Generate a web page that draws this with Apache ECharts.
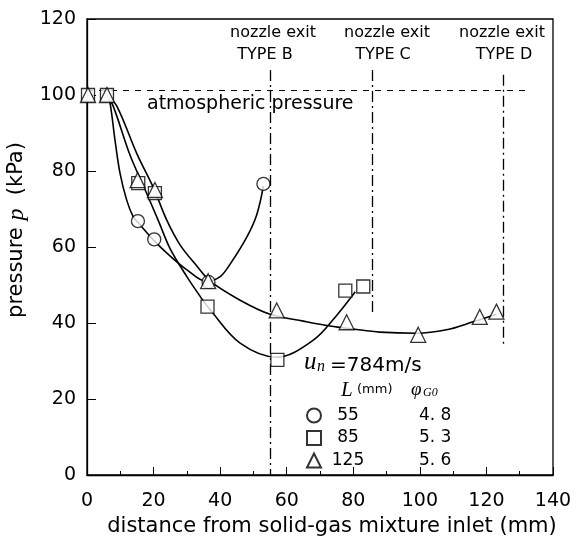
<!DOCTYPE html>
<html>
<head>
<meta charset="utf-8">
<script src="https://cdn.jsdelivr.net/npm/echarts@6/dist/echarts.min.js"></script>
<style>
  html, body { margin: 0; padding: 0; background: #fff; }
  #chart { width: 574px; height: 542px; }
</style>
</head>
<body>
<div id="chart"></div>
<script>
// series labels (L in mm) and phi_G0
const lengths = ['55', '85', '125'];
const phiG0 = ['4. 8', '5. 3', '5. 6'];
const symbols = ['circle', 'rect', 'triangle'];

// measured points [distance mm, pressure kPa]
const pts55 = [[15.3, 66.8], [20.2, 62], [36.5, 50.8], [53, 76.6]];
const pts85 = [[0.3, 100], [6, 100], [15.4, 76.8], [20.4, 74.2], [36.2, 44.3], [57.2, 30.3], [77.6, 48.5], [83, 49.6]];
const pts125 = [[0.3, 100], [6, 100], [15.2, 77.6], [20.4, 75], [36.4, 51], [57, 43.3], [78, 40.2], [99.5, 36.9], [118, 41.6], [123, 43]];

// fitted curves
const curve55 = [[6, 100], [6.9, 98], [8.4, 88.2], [9.9, 79.5], [11.9, 72.4], [13.9, 67.9], [15.3, 66.5], [20, 61.8], [24, 58.4], [30, 54], [36, 50.9], [40, 52.2], [43, 55.5], [48, 62.6], [51, 68.5], [53, 76]];
const curve85 = [[6, 100], [7.9, 97], [13, 84], [17, 76], [21.4, 67], [25, 59.5], [30, 52.2], [34, 47], [37, 43.5], [46, 34.7], [57, 31], [68, 35.5], [75, 42], [80.6, 48.2]];
const curve125 = [[6, 100], [9, 97], [15, 84.5], [20, 75.5], [24, 67], [28, 60.5], [33, 55], [37, 51], [46, 46], [55, 42.3], [65, 40.5], [73, 39.2], [80, 38.4], [88, 37.6], [99, 37.3], [108, 38.2], [116, 40.3], [123, 42.3]];

// nozzle exits: x, top, bottom (kPa)
const nozzleX = [55, 85.7, 125.1];
const nozzleTop = [106.6, 106.6, 105.3];
const nozzleBottom = [0, 42, 34];
const atmPressure = 101.3;
const atmEnd = 133;

const chart = echarts.init(document.getElementById('chart'));

const font = 'DejaVu Sans';
const black = '#000';

function scatter(name, data, sym) {
  return {
    name: name,
    type: 'scatter',
    data: data,
    symbol: sym,
    symbolSize: sym === 'triangle' ? 15 : 13,
    itemStyle: { color: '#fff', borderColor: black, borderWidth: 1.3 },
    z: 5
  };
}
function curve(data) {
  return {
    type: 'line',
    data: data,
    smooth: 0.35,
    showSymbol: false,
    symbol: 'none',
    lineStyle: { color: black, width: 1.6 },
    z: 3,
    silent: true
  };
}

const nozzleLines = nozzleX.map((x, i) => [
  { coord: [x, nozzleTop[i]] },
  { coord: [x, nozzleBottom[i]] }
]);

chart.setOption({
  backgroundColor: '#fff',
  animation: false,
  grid: {
    left: 87, right: 21, top: 19, bottom: 67,
    outerBoundsMode: 'none', containLabel: false,
    show: true, borderColor: black, borderWidth: 1.3
  },
  xAxis: {
    type: 'value', min: 0, max: 140, interval: 20,
    name: 'distance from solid-gas mixture inlet (mm)',
    nameLocation: 'middle', nameGap: 40,
    nameTextStyle: { fontFamily: font, fontSize: 21, color: black, padding: [0, 0, 0, 24] },
    axisLine: { lineStyle: { color: black, width: 1.3 } },
    axisTick: { inside: true, length: 8, lineStyle: { color: black } },
    minorTick: { show: true, splitNumber: 2, length: 4, lineStyle: { color: black } },
    axisLabel: { fontFamily: font, fontSize: 19, color: black, margin: 17 },
    splitLine: { show: false }
  },
  yAxis: {
    type: 'value', min: 0, max: 120, interval: 20,
    name: '{a|pressure }{p|p}{a|  (kPa)}',
    nameLocation: 'middle', nameGap: 49,
    nameTextStyle: {
      padding: [0, 0, 0, 34],
      rich: {
        a: { fontFamily: font, fontSize: 21, color: black },
        p: { fontFamily: 'Liberation Serif', fontStyle: 'italic', fontSize: 24, color: black }
      }
    },
    axisLine: { lineStyle: { color: black, width: 1.3 } },
    axisTick: { inside: true, length: 9, lineStyle: { color: black } },
    axisLabel: { fontFamily: font, fontSize: 19, color: black, margin: 11 },
    splitLine: { show: false }
  },
  legend: {
    orient: 'vertical',
    left: 301, top: 402,
    itemWidth: 14, itemHeight: 14, itemGap: 5.5,
    data: lengths,
    formatter: function (name) {
      const i = lengths.indexOf(name);
      return '{n|' + name + '}{p|' + phiG0[i] + '}';
    },
    textStyle: {
      lineHeight: 14,
      rich: {
        n: { fontFamily: font, fontSize: 17, color: black, width: 44, align: 'right' },
        p: { fontFamily: font, fontSize: 17, color: black, padding: [0, 0, 0, 49] }
      }
    }
  },
  series: [
    Object.assign(curve(curve55), {
      markLine: {
        silent: true, symbol: 'none', animation: false,
        label: { show: false },
        lineStyle: { color: black, width: 1.3, type: [11, 4, 2, 4] },
        data: nozzleLines
      }
    }),
    Object.assign(curve(curve85), {
      markLine: {
        silent: true, symbol: 'none', animation: false,
        label: { show: false },
        lineStyle: { color: black, width: 1, type: [6, 6] },
        data: [[{ coord: [0, atmPressure] }, { coord: [atmEnd, atmPressure] }]]
      }
    }),
    curve(curve125),
    scatter(lengths[0], pts55, symbols[0]),
    scatter(lengths[1], pts85, symbols[1]),
    scatter(lengths[2], pts125, symbols[2])
  ],
  graphic: [
    // nozzle exit labels
    { type: 'text', x: 273, y: 33, style: { text: 'nozzle exit', font: '16px "DejaVu Sans"', fill: black, align: 'center', verticalAlign: 'middle' } },
    { type: 'text', x: 265, y: 55, style: { text: 'TYPE B', font: '16px "DejaVu Sans"', fill: black, align: 'center', verticalAlign: 'middle' } },
    { type: 'text', x: 387, y: 33, style: { text: 'nozzle exit', font: '16px "DejaVu Sans"', fill: black, align: 'center', verticalAlign: 'middle' } },
    { type: 'text', x: 383, y: 55, style: { text: 'TYPE C', font: '16px "DejaVu Sans"', fill: black, align: 'center', verticalAlign: 'middle' } },
    { type: 'text', x: 502, y: 33, style: { text: 'nozzle exit', font: '16px "DejaVu Sans"', fill: black, align: 'center', verticalAlign: 'middle' } },
    { type: 'text', x: 504, y: 55, style: { text: 'TYPE D', font: '16px "DejaVu Sans"', fill: black, align: 'center', verticalAlign: 'middle' } },
    // atmospheric pressure
    { type: 'text', x: 147, y: 104, style: { text: 'atmospheric pressure', font: '19px "DejaVu Sans"', fill: black, align: 'left', verticalAlign: 'middle' } },
    // un = 784 m/s
    { type: 'text', x: 304, y: 362, style: { text: 'u', font: 'italic 25px "Liberation Serif"', fill: black, align: 'left', verticalAlign: 'middle' } },
    { type: 'text', x: 317, y: 367, style: { text: 'n', font: 'italic 16px "Liberation Serif"', fill: black, align: 'left', verticalAlign: 'middle' } },
    { type: 'text', x: 330, y: 366, style: { text: '=784m/s', font: '20px "DejaVu Sans"', fill: black, align: 'left', verticalAlign: 'middle' } },
    // column heads
    { type: 'text', x: 341, y: 390, style: { text: 'L', font: 'italic 21px "Liberation Serif"', fill: black, align: 'left', verticalAlign: 'middle' } },
    { type: 'text', x: 357, y: 390, style: { text: '(mm)', font: '13px "DejaVu Sans"', fill: black, align: 'left', verticalAlign: 'middle' } },
    { type: 'text', x: 411, y: 390, style: { text: 'φ', font: 'italic 19px "Liberation Serif"', fill: black, align: 'left', verticalAlign: 'middle' } },
    { type: 'text', x: 423, y: 393, style: { text: 'G0', font: 'italic 12px "Liberation Serif"', fill: black, align: 'left', verticalAlign: 'middle' } }
  ]
});
</script>
</body>
</html>
